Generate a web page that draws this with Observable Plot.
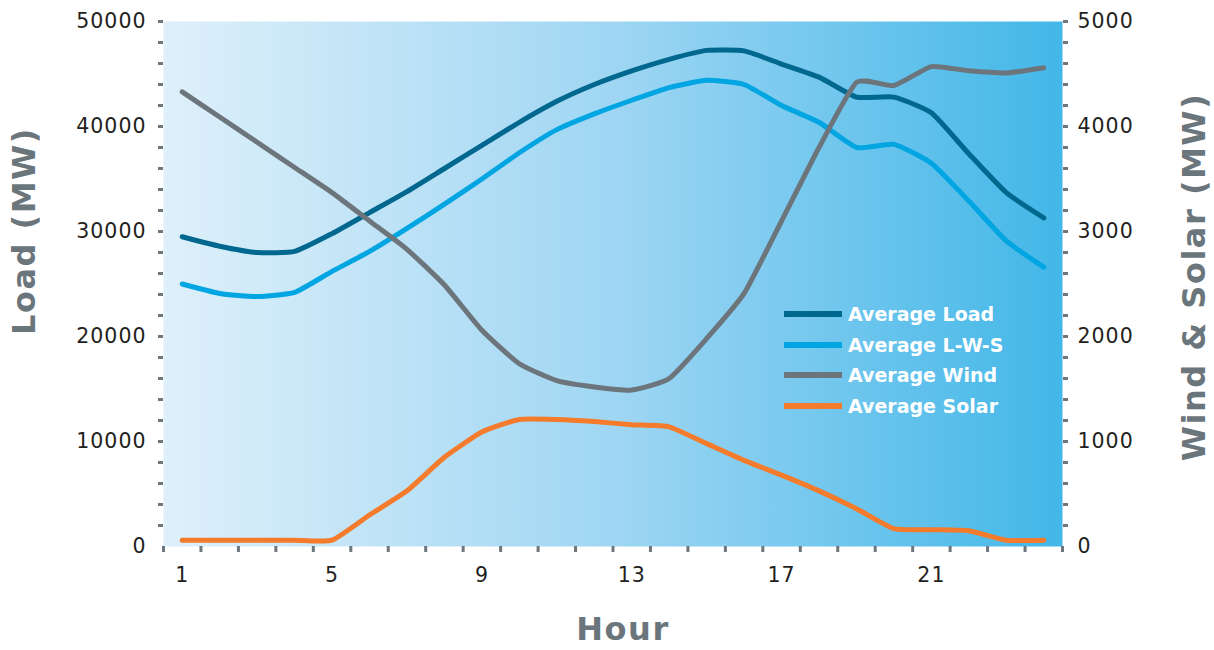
<!DOCTYPE html>
<html>
<head>
<meta charset="utf-8">
<script src="https://cdn.jsdelivr.net/npm/d3@7"></script>
<script src="https://cdn.jsdelivr.net/npm/@observablehq/plot@0.6"></script>
<style>
  body { margin: 0; background: #ffffff; }
  #wrap { position: relative; width: 1214px; height: 650px; overflow: hidden; font-family: "DejaVu Sans", sans-serif; }
  #wrap svg { position: absolute; left: 0; top: 0; }
  .title { position: absolute; font-weight: bold; font-size: 32px; line-height: 28px; color: #6b767c; letter-spacing: 1.5px; white-space: nowrap; }
  #legend { position: absolute; left: 784px; top: 299px; }
  .lrow { height: 30.5px; display: flex; align-items: center; }
  .lline { width: 58px; height: 6px; margin-right: 6px; }
  .ltext { color: #ffffff; font-weight: bold; font-size: 19px; white-space: nowrap; }
</style>
</head>
<body>
<div id="wrap"></div>
<script>
// ---- data ----
const hours = [1,2,3,4,5,6,7,8,9,10,11,12,13,14,15,16,17,18,19,20,21,22,23,24];
const averageLoad = [29500,28600,28000,28100,29800,31800,33800,36000,38200,40400,42400,44000,45300,46400,47250,47200,45950,44700,42800,42800,41300,37400,33700,31300];
const averageLWS  = [25000,24100,23800,24200,26200,28100,30300,32600,35000,37500,39700,41200,42500,43700,44400,44000,42000,40400,38000,38300,36500,32900,29100,26600];
const averageWind = [4330,4090,3850,3610,3370,3100,2830,2490,2060,1740,1580,1520,1490,1600,1980,2410,3100,3800,4420,4390,4570,4530,4510,4560];
const averageSolar = [60,60,60,60,60,300,530,850,1090,1210,1210,1190,1160,1140,980,820,680,530,360,170,160,150,60,60];
const xTickLabels = [1,5,9,13,17,21];
const leftTicks = [0,10000,20000,30000,40000,50000];
const rightTicks = [0,1000,2000,3000,4000,5000];
const seriesNames = ["Average Load","Average L-W-S","Average Wind","Average Solar"];
const seriesColors = ["#00678f","#00a5e1","#6b757b","#f47b2b"];

const secondaryFactor = 50000 / 5000; // secondary axis 0–5000 mapped onto primary 0–50000

const rows = hours.map((h, i) => ({
  hour: h, load: averageLoad[i], lws: averageLWS[i], wind: averageWind[i], solar: averageSolar[i]
}));

const tickColor = "#6d777d";
const textColor = "#231f20";

const bgFrame = Plot.frame({
  fill: "#ffffff",
  render(index, scales, values, dimensions, context, next) {
    const g = next(index, scales, values, dimensions, context);
    g.setAttribute("fill", "url(#bgGrad)");
    g.querySelectorAll("rect").forEach(r => r.setAttribute("fill", "url(#bgGrad)"));
    return g;
  }
});

const lineOpts = {x: "hour", strokeWidth: 5, curve: "cardinal", tension: 0.5, strokeLinejoin: "round"};

const svg = Plot.plot({
  width: 1214,
  height: 650,
  marginLeft: 163,
  marginRight: 152,
  marginTop: 21,
  marginBottom: 104,
  style: {fontFamily: "DejaVu Sans", fontSize: "20.5px", color: textColor, background: "transparent", letterSpacing: "1px"},
  x: {domain: [0.5, 24.5], axis: null},
  y: {domain: [0, 50000], axis: null},
  marks: [
    bgFrame,
    // x ticks between categories
    Plot.axisX({anchor: "bottom", label: null, ticks: d3.range(0.5, 25, 1), tickSize: 6, tickFormat: () => "", stroke: tickColor, strokeWidth: 3}),
    Plot.axisX({anchor: "bottom", label: null, ticks: xTickLabels, tickSize: 0, tickPadding: 21, tickFormat: d => String(d), fill: textColor}),
    // left axis
    Plot.axisY({anchor: "left", label: null, ticks: d3.range(2000, 50001, 2000), tickSize: 5, tickFormat: () => "", stroke: tickColor, strokeWidth: 3}),
    Plot.axisY({anchor: "left", label: null, ticks: leftTicks, tickSize: 0, tickPadding: 17, tickFormat: d => String(d), fill: textColor}),
    // right axis (secondary)
    Plot.axisY({anchor: "right", label: null, ticks: d3.range(2000, 50001, 2000), tickSize: 5, tickFormat: () => "", stroke: tickColor, strokeWidth: 3}),
    Plot.axisY({anchor: "right", label: null, ticks: rightTicks.map(v => v * secondaryFactor), tickSize: 0, tickPadding: 15, tickFormat: d => String(d / secondaryFactor), fill: textColor}),
    // series
    Plot.line(rows, {...lineOpts, y: "load", stroke: seriesColors[0]}),
    Plot.line(rows, {...lineOpts, y: "lws", stroke: seriesColors[1]}),
    Plot.line(rows, {...lineOpts, y: d => d.wind * secondaryFactor, stroke: seriesColors[2]}),
    Plot.line(rows, {...lineOpts, y: d => d.solar * secondaryFactor, stroke: seriesColors[3]})
  ]
});

const ns = "http://www.w3.org/2000/svg";
const defs = document.createElementNS(ns, "defs");
defs.innerHTML = '<linearGradient id="bgGrad" x1="0" x2="1" y1="0" y2="0">' +
  '<stop offset="0" stop-color="#def0fa"/>' +
  '<stop offset="0.5" stop-color="#9fd6f3"/>' +
  '<stop offset="1" stop-color="#42b7e8"/>' +
  '</linearGradient>';
svg.insertBefore(defs, svg.firstChild);

const wrap = document.getElementById("wrap");
wrap.appendChild(svg);

// axis titles
function addTitle(text, cx, cy, rotate) {
  const d = document.createElement("div");
  d.className = "title";
  d.textContent = text;
  d.style.left = cx + "px";
  d.style.top = cy + "px";
  d.style.transform = "translate(-50%, -50%)" + (rotate ? " rotate(-90deg)" : "");
  wrap.appendChild(d);
}
addTitle("Load (MW)", 24, 231, true);
addTitle("Wind & Solar (MW)", 1194, 277, true);
addTitle("Hour", 623, 629, false);

// legend
const legend = document.createElement("div");
legend.id = "legend";
seriesNames.forEach((name, i) => {
  const row = document.createElement("div");
  row.className = "lrow";
  const ln = document.createElement("div");
  ln.className = "lline";
  ln.style.background = seriesColors[i];
  const tx = document.createElement("div");
  tx.className = "ltext";
  tx.textContent = name;
  row.appendChild(ln);
  row.appendChild(tx);
  legend.appendChild(row);
});
wrap.appendChild(legend);
</script>
</body>
</html>
